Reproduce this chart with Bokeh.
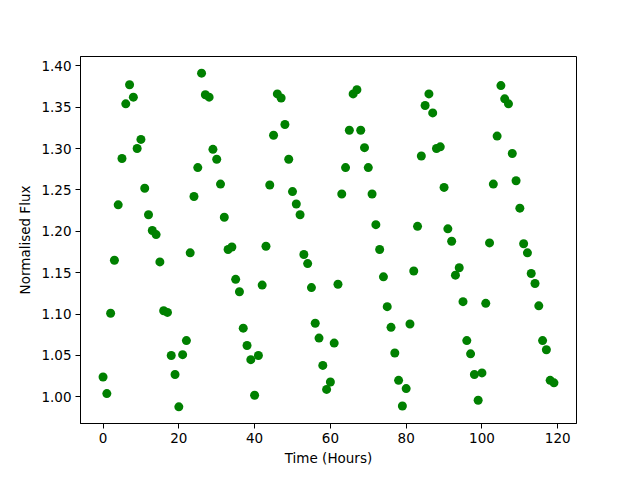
from bokeh.plotting import figure
from bokeh.models import Range1d, FixedTicker, PrintfTickFormatter
from bokeh.embed import file_html
from bokeh.resources import INLINE

hours = list(range(120))
flux = [
    1.024, 1.004, 1.101, 1.165, 1.232, 1.288, 1.354, 1.377, 1.362, 1.300,
    1.311, 1.252, 1.220, 1.201, 1.196, 1.163, 1.104, 1.102, 1.050, 1.027,
    0.988, 1.051, 1.068, 1.174, 1.242, 1.277, 1.391, 1.365, 1.362, 1.299,
    1.287, 1.257, 1.217, 1.178, 1.181, 1.142, 1.127, 1.083, 1.062, 1.045,
    1.002, 1.050, 1.135, 1.182, 1.256, 1.316, 1.366, 1.361, 1.329, 1.287,
    1.248, 1.233, 1.220, 1.172, 1.161, 1.132, 1.089, 1.071, 1.038, 1.009,
    1.018, 1.065, 1.136, 1.245, 1.277, 1.322, 1.366, 1.371, 1.322, 1.301,
    1.277, 1.245, 1.208, 1.178, 1.145, 1.109, 1.084, 1.053, 1.020, 0.989,
    1.010, 1.088, 1.152, 1.206, 1.291, 1.352, 1.366, 1.343, 1.300, 1.302,
    1.253, 1.203, 1.188, 1.147, 1.156, 1.115, 1.068, 1.052, 1.027, 0.996,
    1.029, 1.113, 1.186, 1.257, 1.315, 1.376, 1.360, 1.354, 1.294, 1.261,
    1.228, 1.185, 1.174, 1.149, 1.137, 1.110, 1.068, 1.057, 1.020, 1.017,
]
x_ticks = [0, 20, 40, 60, 80, 100, 120]
y_ticks = [1.00, 1.05, 1.10, 1.15, 1.20, 1.25, 1.30, 1.35, 1.40]

xspan = max(hours) - min(hours)
yspan = max(flux) - min(flux)

p = figure(
    output_backend="svg", toolbar_location=None,
    frame_width=496, frame_height=367,
    min_border_left=80, min_border_right=48, min_border_top=56, min_border_bottom=41,
    x_range=Range1d(min(hours) - 0.05 * xspan, max(hours) + 0.05 * xspan),
    y_range=Range1d(min(flux) - 0.05 * yspan, max(flux) + 0.05 * yspan),
    background_fill_color="white", border_fill_color="white",
)
p.scatter(hours, flux, size=9, fill_color="#008000", line_color=None)

p.grid.visible = False
p.outline_line_color = "black"
p.outline_line_width = 1
p.outline_line_alpha = 1

p.xaxis.ticker = FixedTicker(ticks=x_ticks)
p.yaxis.ticker = FixedTicker(ticks=y_ticks)
p.yaxis.formatter = PrintfTickFormatter(format="%.2f")
p.xaxis.axis_label = "Time (Hours)"
p.yaxis.axis_label = "Normalised Flux"

for ax in (p.xaxis, p.yaxis):
    ax.axis_line_color = "black"
    ax.major_tick_line_color = "black"
    ax.major_tick_out = 5
    ax.major_tick_in = 0
    ax.minor_tick_line_color = None
    ax.major_label_text_font = "DejaVu Sans"
    ax.major_label_text_font_size = "13.5px"
    ax.major_label_text_color = "black"
    ax.axis_label_text_font = "DejaVu Sans"
    ax.axis_label_text_font_size = "13.5px"
    ax.axis_label_text_font_style = "normal"
    ax.axis_label_text_color = "black"
p.xaxis.axis_label_standoff = 4
p.yaxis.axis_label_standoff = 5
p.xaxis.major_label_standoff = 4
p.yaxis.major_label_standoff = 4

open("out.html", "w").write(file_html(p, INLINE))
